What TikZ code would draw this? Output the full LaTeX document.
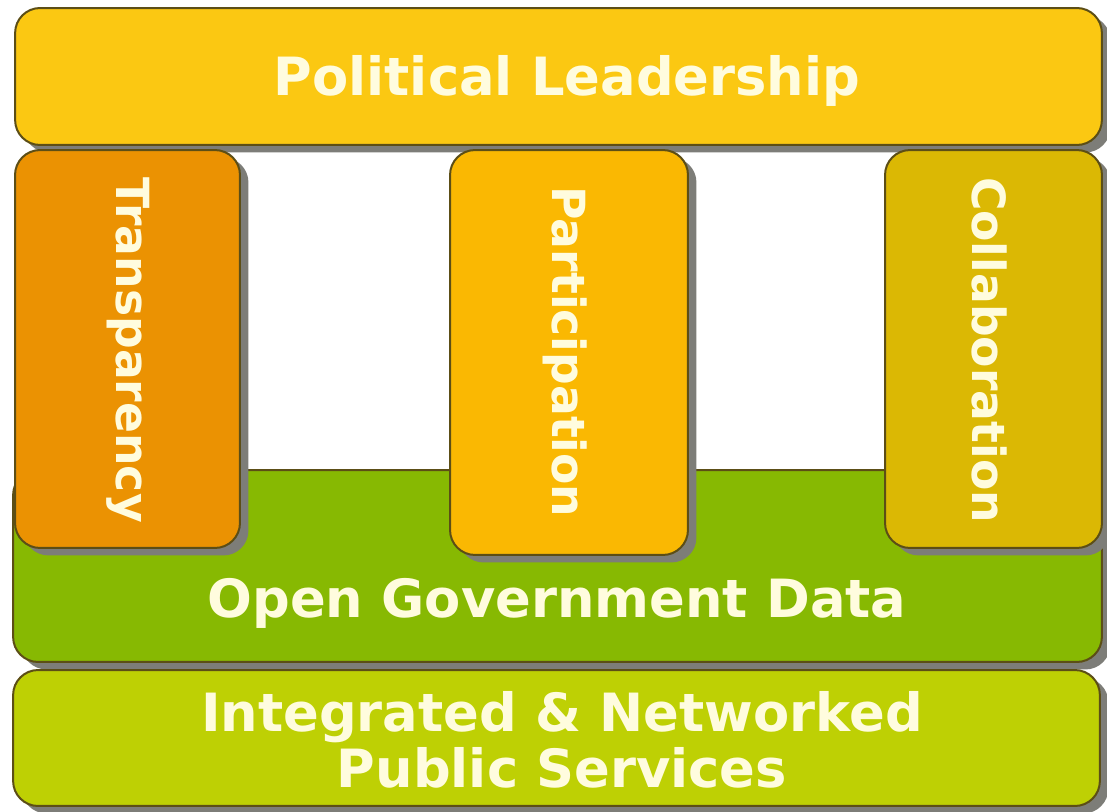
\documentclass[tikz,border=0pt]{standalone}
\usepackage{fontspec}
\setmainfont{DejaVu Sans}
\usetikzlibrary{shadows}

\definecolor{leadyellow}{RGB}{251,200,18}
\definecolor{transorange}{RGB}{235,146,2}
\definecolor{partyellow}{RGB}{250,184,2}
\definecolor{collabolive}{RGB}{219,184,4}
\definecolor{datagreen}{RGB}{135,185,2}
\definecolor{servicelime}{RGB}{190,208,4}
\definecolor{edgeline}{RGB}{92,78,22}
\definecolor{shadowgrey}{RGB}{125,125,120}
\definecolor{labelcream}{RGB}{255,252,222}

\tikzset{
  block/.style={draw=edgeline, line width=0.04cm, rounded corners=0.5cm, inner sep=0pt,
    drop shadow={shadow xshift=0.17cm, shadow yshift=-0.15cm, fill=shadowgrey, opacity=1}},
  blocktext/.style={text=labelcream, font=\bfseries\fontsize{30}{32}\selectfont, align=center},
  pillartext/.style={blocktext, font=\bfseries\fontsize{26}{30}\selectfont, rotate=-90},
}

\begin{document}
\begin{tikzpicture}[x=0.02cm, y=-0.02cm]
			%%%%% START %%%%%
			
			\useasboundingbox[fill=white] (0, 0) rectangle (1107, 812);
			
			% roof
			\node[block, fill=leadyellow, minimum width=21.74cm, minimum height=2.74cm] (leadership) at (558.5, 76.5) {};
			\node[blocktext] (leadership-label) at (567, 81) {Political Leadership};
			
			% floor and base
			\node[block, fill=datagreen, minimum width=21.78cm, minimum height=3.84cm] (data) at (557.5, 566) {};
			\node[blocktext] (data-label) at (557, 603) {Open Government Data};
			
			\node[block, fill=servicelime, minimum width=21.74cm, minimum height=2.72cm] (services) at (556.5, 738) {};
			\node[blocktext] (services-label) at (562, 740) {Integrated \& Networked\\Public Services};
			
			% pillars
			\node[block, fill=transorange, minimum width=4.5cm, minimum height=7.96cm] (transparency) at (127.5, 349) {};
			\node[pillartext] (transparency-label) at (128, 350) {Transparency};
			
			\node[block, fill=partyellow, minimum width=4.76cm, minimum height=8.1cm] (participation) at (569, 352.5) {};
			\node[pillartext] (participation-label) at (565, 352) {Participation};
			
			\node[block, fill=collabolive, minimum width=4.34cm, minimum height=7.96cm] (collaboration) at (993.5, 349) {};
			\node[pillartext] (collaboration-label) at (990, 350) {Collaboration};
			
			%%%%% END %%%%%
\end{tikzpicture}
\end{document}
